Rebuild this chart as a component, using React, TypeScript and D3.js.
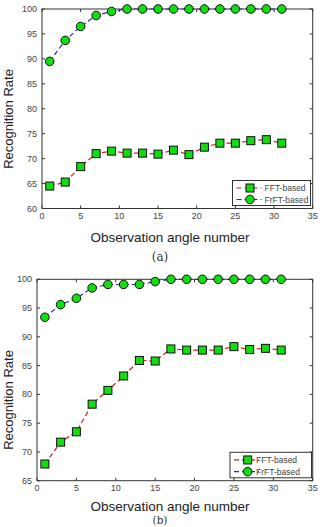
import React, { useEffect, useRef } from "react";
import * as d3 from "d3";

// observation angle numbers (odd angles 1..31)
const angles = [1, 3, 5, 7, 9, 11, 13, 15, 17, 19, 21, 23, 25, 27, 29, 31];

// panel (a)
const fftA = [64.5, 65.3, 68.4, 71.0, 71.5, 71.1, 71.1, 70.9, 71.7, 70.8, 72.3, 73.1, 73.1, 73.6, 73.8, 73.1];
const frftA = [89.5, 93.7, 96.5, 98.7, 99.5, 100, 100, 100, 100, 100, 100, 100, 100, 100, 100, 100];

// panel (b)
const fftB = [67.9, 71.7, 73.5, 78.3, 80.7, 83.2, 85.9, 85.8, 87.9, 87.7, 87.7, 87.7, 88.3, 87.8, 88.0, 87.7];
const frftB = [93.4, 95.6, 96.7, 98.5, 99.1, 99.1, 99.1, 99.6, 100, 100, 100, 100, 100, 100, 100, 100];

const xTicks = [0, 5, 10, 15, 20, 25, 30, 35];
const yTicksA = [60, 65, 70, 75, 80, 85, 90, 95, 100];
const yTicksB = [65, 70, 75, 80, 85, 90, 95, 100];

const seriesNames = ["FFT-based", "FrFT-based"];

const FONT = "'Liberation Sans', Arial, sans-serif";
const RED = "#d42020";
const BLUE = "#2a2ab8";
const GREEN = "#11dd11";

function drawPanel(svg, opts) {
  const { left, right, top, bottom, yDomain, yTicks, fft, frft, caption, captionY, captionSize, xLabelY, labelY, legend } = opts;

  const x = d3.scaleLinear().domain([0, 35]).range([left, right]);
  const y = d3.scaleLinear().domain(yDomain).range([bottom, top]);

  const g = svg.append("g");

  // plot box
  g.append("rect")
    .attr("x", left)
    .attr("y", top)
    .attr("width", right - left)
    .attr("height", bottom - top)
    .attr("fill", "white")
    .attr("stroke", "#333")
    .attr("stroke-width", 1);

  // inward ticks on all four sides (matlab style)
  const tl = 3;
  g.selectAll(".xt")
    .data(xTicks)
    .join("g")
    .each(function (d) {
      const s = d3.select(this);
      s.append("line").attr("x1", x(d)).attr("x2", x(d)).attr("y1", bottom).attr("y2", bottom - tl);
      s.append("line").attr("x1", x(d)).attr("x2", x(d)).attr("y1", top).attr("y2", top + tl);
    })
    .attr("stroke", "#333");
  g.selectAll(".yt")
    .data(yTicks)
    .join("g")
    .each(function (d) {
      const s = d3.select(this);
      s.append("line").attr("x1", left).attr("x2", left + tl).attr("y1", y(d)).attr("y2", y(d));
      s.append("line").attr("x1", right).attr("x2", right - tl).attr("y1", y(d)).attr("y2", y(d));
    })
    .attr("stroke", "#333");

  // tick labels
  g.selectAll(".xl")
    .data(xTicks)
    .join("text")
    .attr("x", (d) => x(d))
    .attr("y", bottom + 10)
    .attr("text-anchor", "middle")
    .attr("font-family", FONT)
    .attr("font-size", 9)
    .attr("fill", "#444")
    .text((d) => d);
  g.selectAll(".yl")
    .data(yTicks)
    .join("text")
    .attr("x", left - 5)
    .attr("y", (d) => y(d) + 3)
    .attr("text-anchor", "end")
    .attr("font-family", FONT)
    .attr("font-size", 9)
    .attr("fill", "#444")
    .text((d) => d);

  // axis titles
  g.append("text")
    .attr("transform", `translate(13, ${labelY}) rotate(-90)`)
    .attr("text-anchor", "middle")
    .attr("font-family", FONT)
    .attr("font-size", 13)
    .attr("fill", "#222")
    .text("Recognition Rate");
  g.append("text")
    .attr("x", 170)
    .attr("y", xLabelY)
    .attr("text-anchor", "middle")
    .attr("font-family", FONT)
    .attr("font-size", 13.5)
    .attr("fill", "#222")
    .text("Observation angle number");
  g.append("text")
    .attr("x", 160)
    .attr("y", captionY)
    .attr("text-anchor", "middle")
    .attr("font-family", "'DejaVu Serif', serif")
    .attr("font-size", captionSize)
    .attr("fill", "#333")
    .text(caption);

  const line = d3
    .line()
    .x((d, i) => x(angles[i]))
    .y((d) => y(d));

  // FFT series: red dashed with squares
  g.append("path")
    .attr("d", line(fft))
    .attr("fill", "none")
    .attr("stroke", RED)
    .attr("stroke-width", 1.2)
    .attr("stroke-dasharray", "5,3");
  g.selectAll(".sq")
    .data(fft)
    .join("rect")
    .attr("x", (d, i) => x(angles[i]) - 4)
    .attr("y", (d) => y(d) - 4)
    .attr("width", 8)
    .attr("height", 8)
    .attr("fill", GREEN)
    .attr("stroke", "#111")
    .attr("stroke-width", 1);

  // FrFT series: blue dashed with circles
  g.append("path")
    .attr("d", line(frft))
    .attr("fill", "none")
    .attr("stroke", BLUE)
    .attr("stroke-width", 1.2)
    .attr("stroke-dasharray", "5,3");
  g.selectAll(".ci")
    .data(frft)
    .join("circle")
    .attr("cx", (d, i) => x(angles[i]))
    .attr("cy", (d) => y(d))
    .attr("r", 4.3)
    .attr("fill", GREEN)
    .attr("stroke", "#111")
    .attr("stroke-width", 1);

  // legend
  const lg = g.append("g");
  lg.append("rect")
    .attr("x", legend.x)
    .attr("y", legend.y)
    .attr("width", legend.w)
    .attr("height", legend.h)
    .attr("fill", "white")
    .attr("stroke", "#333");
  const rowY = [legend.y + legend.h * 0.3, legend.y + legend.h * 0.76];
  const colors = [RED, BLUE];
  seriesNames.forEach((name, i) => {
    const cy = rowY[i];
    lg.append("line")
      .attr("x1", legend.x + 4)
      .attr("x2", legend.x + 29)
      .attr("y1", cy)
      .attr("y2", cy)
      .attr("stroke", colors[i])
      .attr("stroke-width", 1.2)
      .attr("stroke-dasharray", "5,3");
    const mx = legend.x + legend.mx;
    if (i === 0) {
      lg.append("rect")
        .attr("x", mx - 4)
        .attr("y", cy - 4)
        .attr("width", 8)
        .attr("height", 8)
        .attr("fill", GREEN)
        .attr("stroke", "#111");
    } else {
      lg.append("circle")
        .attr("cx", mx)
        .attr("cy", cy)
        .attr("r", 4.3)
        .attr("fill", GREEN)
        .attr("stroke", "#111");
    }
    lg.append("text")
      .attr("x", legend.x + legend.tx)
      .attr("y", cy + 3)
      .attr("font-family", FONT)
      .attr("font-size", 8.5)
      .attr("fill", "#444")
      .text(name);
  });
}

const App = () => {
  const ref = useRef(null);

  useEffect(() => {
    const svg = d3.select(ref.current);
    svg.selectAll("*").remove();

    drawPanel(svg, {
      left: 42,
      right: 312.7,
      top: 9,
      bottom: 208.5,
      yDomain: [60, 100],
      yTicks: yTicksA,
      fft: fftA,
      frft: frftA,
      caption: "(a)",
      captionY: 260.5,
      captionSize: 12,
      xLabelY: 241.5,
      labelY: 119,
      legend: { x: 232.5, y: 180.5, w: 78, h: 25, mx: 17.5, tx: 32 },
    });

    drawPanel(svg, {
      left: 37,
      right: 312.7,
      top: 279.3,
      bottom: 480.7,
      yDomain: [65, 100],
      yTicks: yTicksB,
      fft: fftB,
      frft: frftB,
      caption: "(b)",
      captionY: 524,
      captionSize: 10.5,
      xLabelY: 511.3,
      labelY: 400,
      legend: { x: 230, y: 452.3, w: 81.5, h: 25.5, mx: 17.7, tx: 26 },
    });
  }, []);

  return (
    <svg
      ref={ref}
      width={323}
      height={527}
      style={{ position: "absolute", left: 0, top: 0, background: "white" }}
    />
  );
};

export default App;
